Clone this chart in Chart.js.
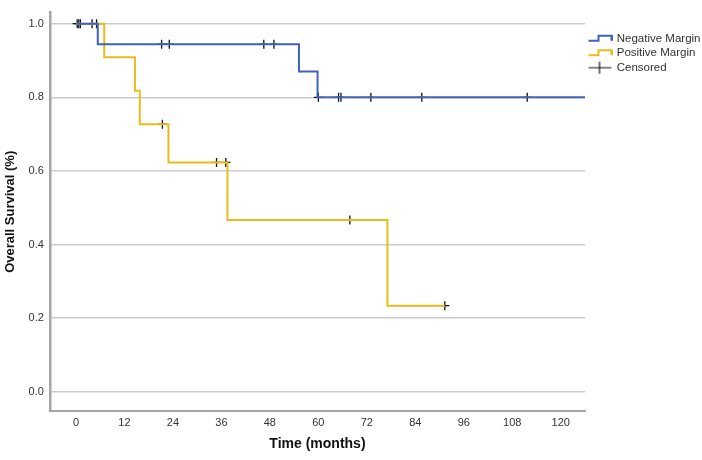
<!DOCTYPE html>
<html>
<head>
<meta charset="utf-8">
<script src="https://cdn.jsdelivr.net/npm/chart.js@4.4.1/dist/chart.umd.min.js"></script>
<style>
  body { margin: 0; background: #fff; }
  #wrap { width: 702px; height: 460px; }
</style>
</head>
<body>
<div id="wrap"><canvas id="km"></canvas></div>
<script>
// Kaplan-Meier steps: time (months) where survival drops, survival after the drop
const negTimes = [0, 5.4, 55.2, 59.8, 126];
const negSurv  = [1.0, 0.944, 0.870, 0.800, 0.800];
const posTimes = [0, 7.0, 14.6, 15.8, 22.9, 37.5, 77.1, 91.3];
const posSurv  = [1.0, 0.909, 0.818, 0.727, 0.623, 0.467, 0.234, 0.234];

// censored observations
const negCensorT = [0.3, 0.7, 1.1, 4.0, 21.2, 23.1, 46.5, 49.0, 60.0, 65.0, 65.6, 73.0, 85.6, 111.7];
const negCensorS = [1.0, 1.0, 1.0, 1.0, 0.944, 0.944, 0.944, 0.944, 0.80, 0.80, 0.80, 0.80, 0.80, 0.80];
const posCensorT = [5.1, 21.4, 34.8, 37.1, 67.8, 91.3];
const posCensorS = [1.0, 0.727, 0.623, 0.623, 0.467, 0.234];

const xTicks = [0, 12, 24, 36, 48, 60, 72, 84, 96, 108, 120];
const yTicks = [0.0, 0.2, 0.4, 0.6, 0.8, 1.0];

const blue = '#4261bd';
const gold = '#e8bc1c';
const fontFam = 'Liberation Sans, Arial, sans-serif';

function pts(xs, ys) {
  return xs.map((x, i) => ({ x: x, y: ys[i] }));
}

// little legend icons
function stepIcon(color) {
  const c = document.createElement('canvas');
  c.width = 26; c.height = 10;
  const g = c.getContext('2d');
  g.strokeStyle = color; g.lineWidth = 2;
  g.beginPath();
  g.moveTo(2, 7); g.lineTo(12, 7); g.lineTo(12, 2); g.lineTo(25, 2); g.lineTo(25, 7);
  g.stroke();
  return c;
}
function crossIcon() {
  const c = document.createElement('canvas');
  c.width = 26; c.height = 14;
  const g = c.getContext('2d');
  g.strokeStyle = '#111'; g.lineWidth = 1.2;
  g.beginPath();
  g.moveTo(2, 7); g.lineTo(25, 7); g.moveTo(13, 1); g.lineTo(13, 13);
  g.stroke();
  return c;
}

const censored = pts(negCensorT, negCensorS).concat(pts(posCensorT, posCensorS));

new Chart(document.getElementById('km'), {
  type: 'scatter',
  data: {
    datasets: [
      {
        label: 'Negative Margin',
        data: pts(negTimes, negSurv),
        showLine: true,
        stepped: true,
        borderColor: blue,
        borderWidth: 2,
        pointRadius: 0,
        pointStyle: stepIcon(blue)
      },
      {
        label: 'Positive Margin',
        data: pts(posTimes, posSurv),
        showLine: true,
        stepped: true,
        borderColor: gold,
        borderWidth: 2,
        pointRadius: 0,
        pointStyle: stepIcon(gold)
      },
      {
        label: 'Censored',
        data: censored,
        showLine: false,
        pointStyle: 'cross',
        pointRadius: 4.5,
        borderColor: '#111',
        borderWidth: 1.3
      }
    ]
  },
  options: {
    responsive: true,
    maintainAspectRatio: false,
    animation: false,
    layout: { padding: { top: 4, left: 3, right: 0, bottom: 7 } },
    plugins: {
      tooltip: { enabled: false },
      legend: {
        position: 'right',
        align: 'start',
        maxWidth: 117,
        title: {
          display: true,
          text: ' ',
          padding: { top: 16, bottom: 0 },
          font: { size: 10, lineHeight: 1 }
        },
        labels: {
          usePointStyle: true,
          pointStyleWidth: 23,
          padding: 3,
          color: '#333',
          font: { family: fontFam, size: 11.5 },
          generateLabels: function (chart) {
            return chart.data.datasets.map((ds, i) => ({
              text: ds.label,
              pointStyle: i < 2 ? ds.pointStyle : crossIcon(),
              fillStyle: 'transparent',
              strokeStyle: 'transparent',
              lineWidth: 0,
              fontColor: '#333',
              datasetIndex: i
            }));
          }
        }
      }
    },
    scales: {
      x: {
        type: 'linear',
        min: -6.45,
        max: 126,
        afterBuildTicks: function (axis) { axis.ticks = xTicks.map(v => ({ value: v })); },
        grid: { display: false, drawTicks: false },
        border: { display: true, color: '#a6a6a6', width: 2 },
        ticks: { color: '#333', padding: 5, font: { family: fontFam, size: 11 } },
        title: {
          display: true,
          text: 'Time (months)',
          color: '#111',
          padding: { top: 2, bottom: 0 },
          font: { family: fontFam, size: 14, weight: 'bold' }
        }
      },
      y: {
        min: -0.052,
        max: 1.03,
        afterBuildTicks: function (axis) { axis.ticks = yTicks.map(v => ({ value: v })); },
        grid: { color: '#cccccc', lineWidth: 1.5, drawTicks: false },
        border: { display: true, color: '#a6a6a6', width: 2.5 },
        ticks: {
          color: '#333',
          padding: 6,
          font: { family: fontFam, size: 11 },
          callback: v => v.toFixed(1)
        },
        title: {
          display: true,
          text: 'Overall Survival (%)',
          color: '#111',
          padding: { top: 0, bottom: 4 },
          font: { family: fontFam, size: 13, weight: 'bold' }
        }
      }
    }
  }
});
</script>
</body>
</html>
